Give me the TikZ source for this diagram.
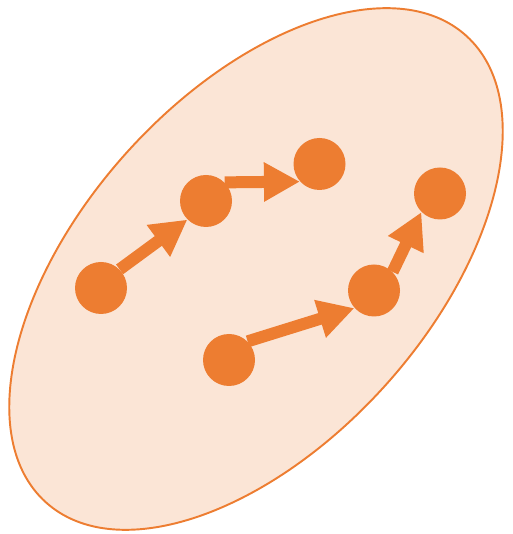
\documentclass[tikz,border=0pt]{standalone}
\usepackage{xcolor}
\usepackage{tikz}
\usetikzlibrary{arrows.meta}

\definecolor{accent}{HTML}{ED7D31}
\definecolor{accentlight}{HTML}{FBE5D6}

\begin{document}
\begin{tikzpicture}[
  dot/.style={circle, fill=accent, minimum size=1.04cm, inner sep=0pt},
  flow/.style={draw=accent, line width=0.24cm, -{Triangle[length=0.72cm, width=0.74cm]}}
]
  \useasboundingbox (0, 0) rectangle (10.24, 10.68);

  % Enclosing set
  \draw[draw=accent, fill=accentlight, line width=1.1pt, rotate around={48:(5.12, 5.30)}]
    (5.12, 5.30) ellipse (6.28cm and 3.48cm);

  % Upper chain
  \node[dot] (a) at (2.02, 4.92) {};
  \node[dot] (b) at (4.12, 6.66) {};
  \node[dot] (c) at (6.39, 7.40) {};
  \draw[flow] (a.north east) -- (b.south west);
  \draw[flow] (b.north east) -- (c.222);

  % Lower chain
  \node[dot] (d) at (4.58, 3.48) {};
  \node[dot] (e) at (7.48, 4.87) {};
  \node[dot] (f) at (8.80, 6.81) {};
  \draw[flow] (d.north east) -- (e.222);
  \draw[flow] (e.north east) -- (f.south west);
\end{tikzpicture}
\end{document}
